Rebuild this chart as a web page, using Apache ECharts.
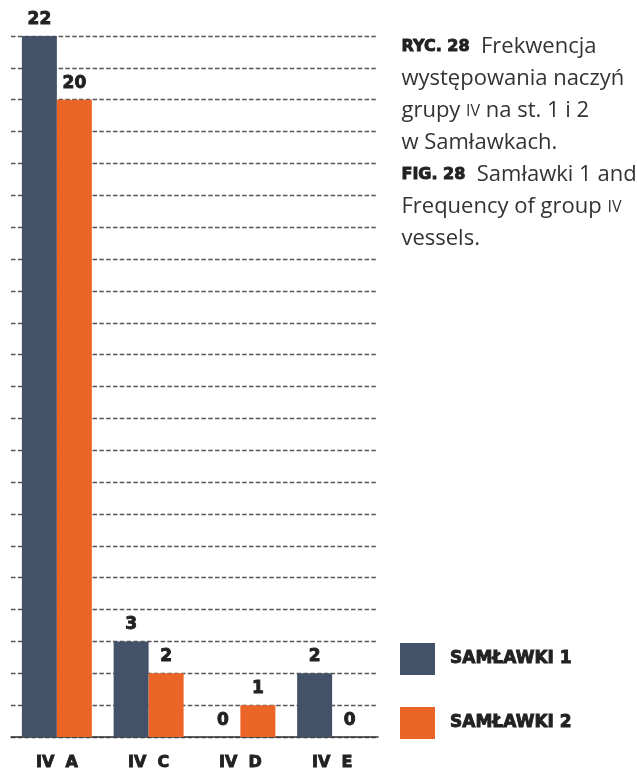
<!DOCTYPE html>
<html>
<head>
<meta charset="utf-8">
<script src="https://cdn.jsdelivr.net/npm/echarts@6/dist/echarts.min.js"></script>
<style>
  html, body { margin: 0; padding: 0; background: #fff; }
  #chart { width: 637px; height: 772px; }
</style>
</head>
<body>
<div id="chart"></div>
<script>
// Vessel group IV counts per site
const categories = ['IV  A', 'IV  C', 'IV  D', 'IV  E'];
const samlawki1 = [22, 3, 0, 2];
const samlawki2 = [20, 2, 1, 0];
const seriesNames = ['SAMŁAWKI 1', 'SAMŁAWKI 2'];
const yMax = 22;

const DARK = '#435269';
const ORANGE = '#eb6626';
const INK = '#222';
// heavy display face: bold plus a thin outline in the same ink
const heavy = (size) => ({
  fontFamily: 'DejaVu Sans',
  fontWeight: 'bold',
  fontSize: size,
  color: INK,
  textBorderColor: INK,
  textBorderWidth: 0.9
});

const chart = echarts.init(document.getElementById('chart'));

const labelStyle = Object.assign({ show: true, position: 'top', distance: 8 }, heavy(17));

chart.setOption({
  animation: false,
  grid: { left: 11, right: 259, top: 36, bottom: 35, containLabel: false },
  xAxis: {
    type: 'category',
    data: categories,
    axisLine: { lineStyle: { color: '#333', width: 1.5 } },
    axisTick: { show: false },
    axisLabel: Object.assign({ margin: 18 }, heavy(16))
  },
  yAxis: {
    type: 'value',
    min: 0,
    max: yMax,
    interval: 1,
    axisLine: { show: false },
    axisTick: { show: false },
    axisLabel: { show: false },
    splitLine: { lineStyle: { type: [4.5, 2.3], color: '#555', width: 1.4 } }
  },
  legend: {
    orient: 'vertical',
    left: 400,
    top: 643,
    padding: 0,
    itemWidth: 35,
    itemHeight: 32,
    itemGap: 32,
    icon: 'rect',
    textStyle: Object.assign({ padding: [0, 0, 0, 10] }, heavy(17)),
    data: seriesNames
  },
  series: [
    {
      name: seriesNames[0],
      type: 'bar',
      data: samlawki1,
      barWidth: 35,
      barGap: '0%',
      itemStyle: { color: DARK },
      label: labelStyle
    },
    {
      name: seriesNames[1],
      type: 'bar',
      data: samlawki2,
      barWidth: 35,
      barGap: '0%',
      itemStyle: { color: ORANGE },
      label: labelStyle
    }
  ],
  graphic: [
    {
      type: 'text',
      left: 401,
      top: 31,
      style: {
        text: [
          '{b|RYC. 28}  Frekwencja',
          'występowania naczyń',
          'grupy {sc|IV} na st. 1 i 2',
          'w Samławkach.',
          '{b|FIG. 28}  Samławki 1 and',
          'Frequency of group {sc|IV}',
          'vessels.'
        ].join('\n'),
        fontFamily: 'Open Sans',
        fontSize: 22,
        lineHeight: 32,
        fill: '#333',
        rich: {
          b: {
            fontFamily: 'DejaVu Sans',
            fontWeight: 'bold',
            fontSize: 16,
            lineHeight: 32,
            fill: INK,
            stroke: INK,
            lineWidth: 0.9
          },
          sc: { fontFamily: 'Open Sans', fontSize: 16, lineHeight: 32, fill: '#333' }
        }
      }
    }
  ]
});
</script>
</body>
</html>
